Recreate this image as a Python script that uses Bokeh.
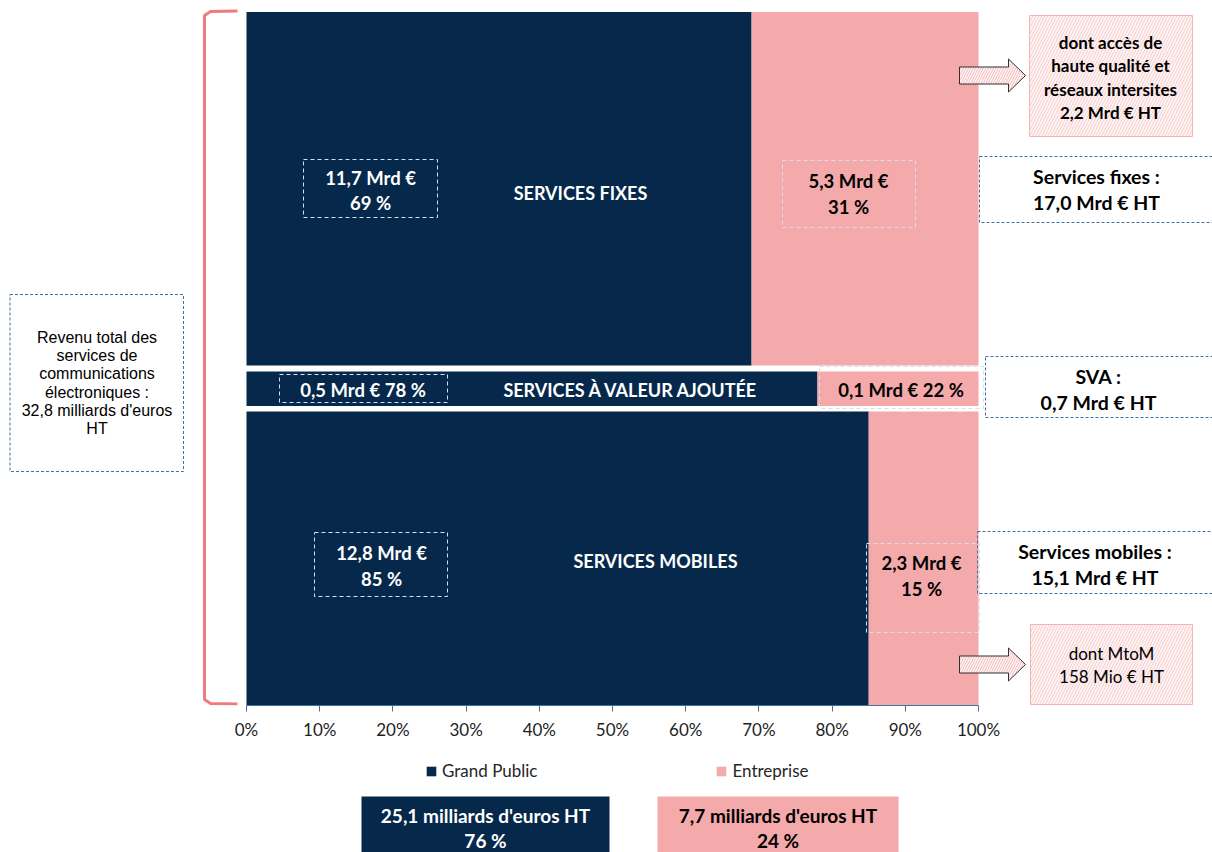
from bokeh.plotting import figure
from bokeh.models import (ColumnDataSource, Range1d, LinearAxis, FixedTicker,
                          NumeralTickFormatter, Legend, LegendItem)
from bokeh.layouts import column
from bokeh.embed import file_html
from bokeh.resources import INLINE
from bokeh.core.properties import value

# ---------------- DATA ----------------
categories = ["SERVICES FIXES", "SERVICES À VALEUR AJOUTÉE", "SERVICES MOBILES"]
right_titles = ["Services fixes :", "SVA :", "Services mobiles :"]
totals = [17.0, 0.7, 15.1]
gp_mrd = [11.7, 0.5, 12.8]
ent_mrd = [5.3, 0.1, 2.3]
gp_pct = [69, 78, 85]
ent_pct = [31, 22, 15]
segments = ["Grand Public", "Entreprise"]
segment_totals = [25.1, 7.7]
segment_pct = [76, 24]
grand_total = 32.8
sub_fixed_hq = 2.2
sub_mtom_mio = 158
x_ticks = [0, 0.1, 0.2, 0.3, 0.4, 0.5, 0.6, 0.7, 0.8, 0.9, 1.0]

# ---------------- STYLE / LAYOUT ----------------
NAVY = "#06284B"
PINK = "#F4A9AA"
BRACKET = "#EF7C7C"
DASH_DARK = "#41719C"
DASH_LIGHT = "#D5E0EC"
FONT = "Lato"
W = 1212
PX0, PX1 = 246.0, 978.0


def xs(px):
    return (px - PX0) / (PX1 - PX0)


def fr(v):
    return f"{v:.1f}".replace(".", ",")


row_top = [11.5, 371, 411]
row_bot = [365, 405.5, 705]

x_range = Range1d(xs(0), xs(W))

p = figure(width=W, height=750, x_range=x_range, y_range=Range1d(705, 0),
           output_backend="svg", toolbar_location=None,
           x_axis_location=None, y_axis_location=None,
           min_border_left=0, min_border_right=0, min_border_top=0,
           min_border_bottom=45, outline_line_color=None)
p.xgrid.visible = False
p.ygrid.visible = False

gp_share = [v / 100 for v in gp_pct]
bars = ColumnDataSource(dict(top=row_top, bottom=row_bot, gp=gp_share,
                             zero=[0] * 3, one=[1] * 3))
p.quad(left="zero", right="gp", top="top", bottom="bottom", source=bars,
       fill_color=NAVY, line_color=None)
p.quad(left="gp", right="one", top="top", bottom="bottom", source=bars,
       fill_color=PINK, line_color=None)

ax = LinearAxis(bounds=(0, 1), ticker=FixedTicker(ticks=x_ticks),
                formatter=NumeralTickFormatter(format="0%"))
ax.axis_line_color = DASH_DARK
ax.major_tick_line_color = DASH_DARK
ax.major_tick_in = 0
ax.major_tick_out = 6
ax.minor_tick_line_color = None
ax.major_label_text_font = FONT
ax.major_label_text_font_size = "17px"
ax.major_label_text_color = "#1E1E1E"
ax.major_label_standoff = 7
p.add_layout(ax, "below")


def dashed_box(fig, l, r, t, b, color, dash):
    fig.quad(left=[xs(l)], right=[xs(r)], top=[t], bottom=[b], fill_color=None,
             line_color=color, line_dash=dash, line_width=1)


def txt(fig, x, y, text, color="black", size="16px", bold=True, font=FONT, lh=1.2):
    fig.text(x=[xs(x)], y=[y], text=[text], text_align="center", text_baseline="middle",
             text_font=value(font), text_font_size=size,
             text_font_style="bold" if bold else "normal", text_color=color,
             text_line_height=lh)


# bracket
p.line(x=[xs(237), xs(210), xs(204), xs(204), xs(210), xs(237)],
       y=[10.5, 11, 15, 699, 703, 703.5], line_color=BRACKET, line_width=3)

# left revenue box
dashed_box(p, 9.5, 183, 294, 471, DASH_DARK, "3 2")
txt(p, 96.5, 382.5,
    f"Revenu total des\nservices de\ncommunications\nélectroniques :\n{fr(grand_total)} milliards d'euros\nHT",
    size="16px", bold=False, font="Liberation Sans", lh=1.07)

# in-bar labels
gp_boxes = [(303, 437, 159, 217), (279, 447, 374, 402), (314, 447, 532, 596)]
ent_boxes = [(782, 915, 160, 227), (819, 983, 366, 408), (866, 979, 543, 632)]
gp_pos = [(370, 190), (362.5, 389), (381, 565.5)]
ent_pos = [(848, 193.5), (900.5, 389), (921, 575.5)]
cat_pos = [(580, 192.5), (630.5, 389.5), (655, 560)]
for i in range(3):
    dashed_box(p, *gp_boxes[i], DASH_LIGHT, "4 3")
    dashed_box(p, *ent_boxes[i], DASH_LIGHT, "4 3")
    sep = " " if i == 1 else "\n"
    txt(p, *gp_pos[i], f"{fr(gp_mrd[i])} Mrd €{sep}{gp_pct[i]} %", color="white",
        size="18.5px", lh=1.17)
    txt(p, *ent_pos[i], f"{fr(ent_mrd[i])} Mrd €{sep}{ent_pct[i]} %", color="black",
        size="18.5px", lh=1.17)
    txt(p, *cat_pos[i], categories[i], color="white", size="18px")

# right total boxes
right_boxes = [(979, 1216, 156, 222), (985, 1216, 356, 417), (977, 1216, 531, 593)]
right_pos = [(1096, 189), (1098, 389), (1094.5, 564)]
for i in range(3):
    dashed_box(p, *right_boxes[i], DASH_DARK, "3 2")
    txt(p, *right_pos[i], f"{right_titles[i]}\n{fr(totals[i])} Mrd € HT", color="black",
        size="19.5px", lh=1.11)

# hatched detail boxes
for (l, r, t, b) in [(1029, 1192, 15, 136), (1030, 1192, 624, 704)]:
    p.quad(left=[xs(l)], right=[xs(r)], top=[t], bottom=[b], fill_color="#FEF3F3",
           hatch_pattern="/", hatch_color="#F7CFCF", hatch_scale=6, hatch_weight=1,
           line_color="#F4B4B4", line_width=1)
txt(p, 1110, 77, f"dont accès de\nhaute qualité et\nréseaux intersites\n{fr(sub_fixed_hq)} Mrd € HT",
    size="17px", lh=1.11)
txt(p, 1111, 664.5, f"dont MtoM\n{sub_mtom_mio} Mio € HT", size="17px", bold=False, lh=1.13)

# block arrows
for yc in [75, 664]:
    ax_px = [959, 1008, 1008, 1025, 1008, 1008, 959]
    ay = [yc - 8.5, yc - 8.5, yc - 16.5, yc, yc + 16.5, yc + 8.5, yc + 8.5]
    p.patch(x=[xs(v) for v in ax_px], y=ay, fill_color="#FFFAFA",
            hatch_pattern="/", hatch_color="#F4B4B4", hatch_scale=5, hatch_weight=1,
            line_color="#303030", line_width=1)

# ---------------- bottom figure: legend + segment totals ----------------
p2 = figure(width=W, height=102, x_range=x_range, y_range=Range1d(852, 750),
            output_backend="svg", toolbar_location=None,
            x_axis_location=None, y_axis_location=None,
            min_border_left=0, min_border_right=0, min_border_top=0,
            min_border_bottom=0, outline_line_color=None)
p2.xgrid.visible = False
p2.ygrid.visible = False

seg_src = ColumnDataSource(dict(left=[xs(361), xs(657)], right=[xs(609), xs(898)],
                                top=[796, 796], bottom=[860, 860], color=[NAVY, PINK]))
seg_r = p2.quad(left="left", right="right", top="top", bottom="bottom", source=seg_src,
                fill_color="color", line_color=None)
seg_x = [485, 777.5]
seg_col = ["white", "black"]
for i in range(2):
    txt(p2, seg_x[i], 827.5, f"{fr(segment_totals[i])} milliards d'euros HT\n{segment_pct[i]} %",
        color=seg_col[i], size="19px", lh=1.1)

legend = Legend(items=[LegendItem(label=segments[0], renderers=[seg_r], index=0),
                       LegendItem(label=segments[1], renderers=[seg_r], index=1)],
                orientation="horizontal", location=(425, 71), padding=0, margin=0,
                spacing=178, glyph_width=12, glyph_height=12, label_standoff=5,
                label_text_font=FONT, label_text_font_size="17px",
                label_text_color="#262626", border_line_color=None,
                background_fill_alpha=0)
p2.add_layout(legend)

layout = column(p, p2, spacing=0)
open("out.html", "w").write(file_html(layout, INLINE))
